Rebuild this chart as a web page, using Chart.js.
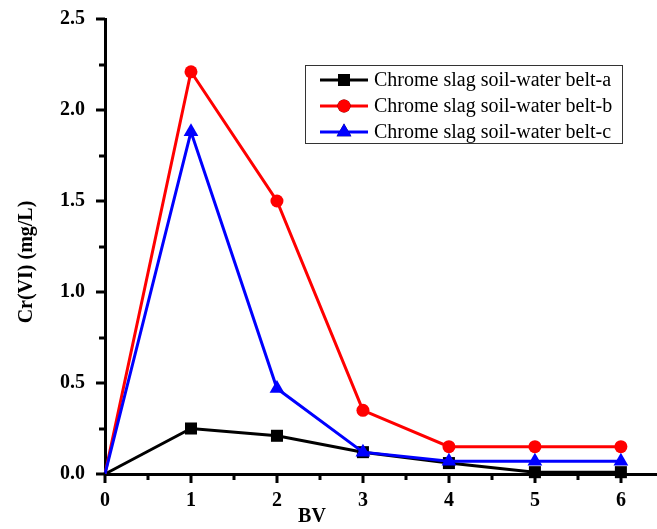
<!DOCTYPE html>
<html>
<head>
<meta charset="utf-8">
<script src="https://cdn.jsdelivr.net/npm/chart.js@4/dist/chart.umd.min.js"></script>
<style>
  html, body { margin: 0; padding: 0; background: #fff; }
  #wrap { width: 657px; height: 529px; position: relative; }
</style>
</head>
<body>
<div id="wrap"><canvas id="chart" width="657" height="529"></canvas></div>
<script>
'use strict';

// ── DATA ────────────────────────────────────────────────────────────────────
const bvValues  = [0, 1, 2, 3, 4, 5, 6];
const beltA     = [0, 0.25, 0.21, 0.12, 0.06, 0.01, 0.01];
const beltB     = [0, 2.21, 1.50, 0.35, 0.15, 0.15, 0.15];
const beltC     = [0, 1.88, 0.47, 0.12, 0.07, 0.07, 0.07];
const seriesNames = [
  'Chrome slag soil-water belt-a',
  'Chrome slag soil-water belt-b',
  'Chrome slag soil-water belt-c',
];
const xTitle = 'BV';
const yTitle = 'Cr(VI) (mg/L)';

const FONT = '"Liberation Serif", "Times New Roman", serif';

function toPoints(ys) {
  return bvValues.map((x, i) => ({ x, y: ys[i] }));
}

// no marker at the origin point
const hideFirst = base => ctx => (ctx.dataIndex === 0 ? 0 : base);

// ── PLUGIN: outward major/minor tick marks, axis titles, boxed legend ───────
const decorPlugin = {
  id: 'decor',
  afterDraw(chart) {
    const { ctx, chartArea: a, scales: { x, y } } = chart;
    ctx.save();
    ctx.strokeStyle = '#000';
    ctx.lineWidth = 3;
    ctx.lineCap = 'butt';

    x.ticks.forEach(t => {
      const px = Math.round(x.getPixelForValue(t.value));
      const len = Number.isInteger(t.value) ? 9 : 6;
      ctx.beginPath();
      ctx.moveTo(px, a.bottom);
      ctx.lineTo(px, a.bottom + len);
      ctx.stroke();
    });
    y.ticks.forEach(t => {
      const py = Math.round(y.getPixelForValue(t.value));
      const major = Math.abs(t.value * 2 - Math.round(t.value * 2)) < 1e-6;
      const len = major ? 9 : 6;
      ctx.beginPath();
      ctx.moveTo(a.left, py);
      ctx.lineTo(a.left - len, py);
      ctx.stroke();
    });

    // axis titles
    ctx.fillStyle = '#000';
    ctx.font = 'bold 20px ' + FONT;
    ctx.textAlign = 'center';
    ctx.textBaseline = 'middle';
    ctx.fillText(xTitle, 312, 517);
    ctx.save();
    ctx.translate(27, 262);
    ctx.rotate(-Math.PI / 2);
    ctx.fillText(yTitle, 0, 0);
    ctx.restore();

    // legend box
    ctx.lineWidth = 1;
    ctx.strokeStyle = '#333';
    ctx.strokeRect(305.5, 65.5, 317, 78);
    const rows = [80, 106, 132];
    chart.data.datasets.forEach((ds, i) => {
      const yy = rows[i];
      ctx.strokeStyle = ds.borderColor;
      ctx.lineWidth = 3;
      ctx.beginPath();
      ctx.moveTo(320, yy);
      ctx.lineTo(368, yy);
      ctx.stroke();
      Chart.helpers.drawPoint(ctx, {
        pointStyle: ds.pointStyle,
        radius: ds.legendRadius,
        borderWidth: 0,
      }, 344, yy);
      ctx.fillStyle = ds.borderColor;
      ctx.fill();
      ctx.fillStyle = '#000';
      ctx.font = '20px ' + FONT;
      ctx.textAlign = 'left';
      ctx.textBaseline = 'middle';
      ctx.fillText(ds.label, 374, yy + 1);
    });
    ctx.restore();
  },
};

// ── CHART ───────────────────────────────────────────────────────────────────
const tickFont = { family: FONT, size: 20, weight: 'bold' };

new Chart(document.getElementById('chart'), {
  type: 'line',
  data: {
    datasets: [
      {
        label: seriesNames[0],
        data: toPoints(beltA),
        borderColor: '#000000',
        backgroundColor: '#000000',
        pointStyle: 'rect',
        pointRadius: hideFirst(8.5),
        legendRadius: 8.5,
        order: 3,
      },
      {
        label: seriesNames[1],
        data: toPoints(beltB),
        borderColor: '#ff0000',
        backgroundColor: '#ff0000',
        pointStyle: 'circle',
        pointRadius: hideFirst(6.5),
        legendRadius: 6.5,
        order: 2,
      },
      {
        label: seriesNames[2],
        data: toPoints(beltC),
        borderColor: '#0000ff',
        backgroundColor: '#0000ff',
        pointStyle: 'triangle',
        pointRadius: hideFirst(8.5),
        legendRadius: 8.5,
        order: 1,
      },
    ].map(d => Object.assign({
      borderWidth: 3,
      pointBorderWidth: 0,
      pointHoverRadius: 0,
      tension: 0,
      fill: false,
      clip: false,
    }, d)),
  },
  options: {
    responsive: false,
    animation: false,
    events: [],
    layout: { autoPadding: false, padding: { top: 19, right: 0, left: 0, bottom: 0 } },
    plugins: { legend: { display: false }, tooltip: { enabled: false } },
    scales: {
      x: {
        type: 'linear',
        min: 0,
        max: 6.42,
        afterBuildTicks(scale) {
          const t = [];
          for (let v = 0; v <= 6; v += 0.5) t.push({ value: v });
          scale.ticks = t;
        },
        afterFit(scale) {
          scale.height = 55;
        },
        ticks: {
          color: '#000',
          font: tickFont,
          padding: 7,
          maxRotation: 0,
          autoSkip: false,
          callback: v => (Number.isInteger(v) ? String(v) : ''),
        },
        grid: { display: false },
        border: { display: true, color: '#000', width: 3 },
      },
      y: {
        type: 'linear',
        min: 0,
        max: 2.5,
        afterFit(scale) {
          scale.width = 105;
          scale.paddingTop = 0;
          scale.paddingBottom = 0;
        },
        ticks: {
          color: '#000',
          font: tickFont,
          padding: 12,
          stepSize: 0.25,
          autoSkip: false,
          callback: v => (Math.abs(v * 2 - Math.round(v * 2)) < 1e-6 ? v.toFixed(1) : ''),
        },
        grid: { display: false },
        border: { display: true, color: '#000', width: 3 },
      },
    },
  },
  plugins: [decorPlugin],
});
</script>
</body>
</html>
